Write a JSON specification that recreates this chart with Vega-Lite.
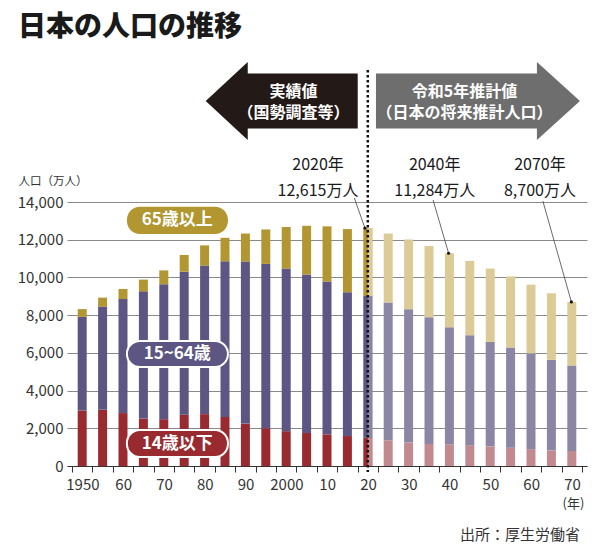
{
  "$schema": "https://vega.github.io/schema/vega-lite/v6.json",
  "autosize": {"type": "none"},
  "padding": {"left": 67, "top": 202, "right": 13, "bottom": 84},
  "width": 520,
  "height": 264,
  "background": "white",
  "title": {"text": "日本の人口の推移", "anchor": "start", "frame": "group", "font": "Noto Sans CJK JP", "fontSize": 28, "fontWeight": 900, "color": "#1a1a1a", "dx": -49, "offset": 20},
  "config": {"view": {"stroke": null}, "font": "Noto Sans CJK JP"},
  "data": {"values": [{}]},
  "datasets": {
    "population": [
      {"year": 1950, "age": "14歳以下", "value": 2943, "period": "実績"},
      {"year": 1950, "age": "15~64歳", "value": 4966, "period": "実績"},
      {"year": 1950, "age": "65歳以上", "value": 411, "period": "実績"},
      {"year": 1955, "age": "14歳以下", "value": 2980, "period": "実績"},
      {"year": 1955, "age": "15~64歳", "value": 5473, "period": "実績"},
      {"year": 1955, "age": "65歳以上", "value": 475, "period": "実績"},
      {"year": 1960, "age": "14歳以下", "value": 2807, "period": "実績"},
      {"year": 1960, "age": "15~64歳", "value": 6047, "period": "実績"},
      {"year": 1960, "age": "65歳以上", "value": 535, "period": "実績"},
      {"year": 1965, "age": "14歳以下", "value": 2517, "period": "実績"},
      {"year": 1965, "age": "15~64歳", "value": 6744, "period": "実績"},
      {"year": 1965, "age": "65歳以上", "value": 624, "period": "実績"},
      {"year": 1970, "age": "14歳以下", "value": 2482, "period": "実績"},
      {"year": 1970, "age": "15~64歳", "value": 7157, "period": "実績"},
      {"year": 1970, "age": "65歳以上", "value": 733, "period": "実績"},
      {"year": 1975, "age": "14歳以下", "value": 2722, "period": "実績"},
      {"year": 1975, "age": "15~64歳", "value": 7581, "period": "実績"},
      {"year": 1975, "age": "65歳以上", "value": 887, "period": "実績"},
      {"year": 1980, "age": "14歳以下", "value": 2751, "period": "実績"},
      {"year": 1980, "age": "15~64歳", "value": 7883, "period": "実績"},
      {"year": 1980, "age": "65歳以上", "value": 1065, "period": "実績"},
      {"year": 1985, "age": "14歳以下", "value": 2603, "period": "実績"},
      {"year": 1985, "age": "15~64歳", "value": 8251, "period": "実績"},
      {"year": 1985, "age": "65歳以上", "value": 1247, "period": "実績"},
      {"year": 1990, "age": "14歳以下", "value": 2249, "period": "実績"},
      {"year": 1990, "age": "15~64歳", "value": 8590, "period": "実績"},
      {"year": 1990, "age": "65歳以上", "value": 1489, "period": "実績"},
      {"year": 1995, "age": "14歳以下", "value": 2001, "period": "実績"},
      {"year": 1995, "age": "15~64歳", "value": 8716, "period": "実績"},
      {"year": 1995, "age": "65歳以上", "value": 1826, "period": "実績"},
      {"year": 2000, "age": "14歳以下", "value": 1847, "period": "実績"},
      {"year": 2000, "age": "15~64歳", "value": 8622, "period": "実績"},
      {"year": 2000, "age": "65歳以上", "value": 2204, "period": "実績"},
      {"year": 2005, "age": "14歳以下", "value": 1752, "period": "実績"},
      {"year": 2005, "age": "15~64歳", "value": 8409, "period": "実績"},
      {"year": 2005, "age": "65歳以上", "value": 2576, "period": "実績"},
      {"year": 2010, "age": "14歳以下", "value": 1680, "period": "実績"},
      {"year": 2010, "age": "15~64歳", "value": 8103, "period": "実績"},
      {"year": 2010, "age": "65歳以上", "value": 2925, "period": "実績"},
      {"year": 2015, "age": "14歳以下", "value": 1589, "period": "実績"},
      {"year": 2015, "age": "15~64歳", "value": 7629, "period": "実績"},
      {"year": 2015, "age": "65歳以上", "value": 3347, "period": "実績"},
      {"year": 2020, "age": "14歳以下", "value": 1503, "period": "実績"},
      {"year": 2020, "age": "15~64歳", "value": 7509, "period": "実績"},
      {"year": 2020, "age": "65歳以上", "value": 3603, "period": "実績"},
      {"year": 2025, "age": "14歳以下", "value": 1363, "period": "推計"},
      {"year": 2025, "age": "15~64歳", "value": 7310, "period": "推計"},
      {"year": 2025, "age": "65歳以上", "value": 3653, "period": "推計"},
      {"year": 2030, "age": "14歳以下", "value": 1240, "period": "推計"},
      {"year": 2030, "age": "15~64歳", "value": 7076, "period": "推計"},
      {"year": 2030, "age": "65歳以上", "value": 3696, "period": "推計"},
      {"year": 2035, "age": "14歳以下", "value": 1169, "period": "推計"},
      {"year": 2035, "age": "15~64歳", "value": 6722, "period": "推計"},
      {"year": 2035, "age": "65歳以上", "value": 3773, "period": "推計"},
      {"year": 2040, "age": "14歳以下", "value": 1142, "period": "推計"},
      {"year": 2040, "age": "15~64歳", "value": 6213, "period": "推計"},
      {"year": 2040, "age": "65歳以上", "value": 3928, "period": "推計"},
      {"year": 2045, "age": "14歳以下", "value": 1103, "period": "推計"},
      {"year": 2045, "age": "15~64歳", "value": 5832, "period": "推計"},
      {"year": 2045, "age": "65歳以上", "value": 3945, "period": "推計"},
      {"year": 2050, "age": "14歳以下", "value": 1041, "period": "推計"},
      {"year": 2050, "age": "15~64歳", "value": 5540, "period": "推計"},
      {"year": 2050, "age": "65歳以上", "value": 3888, "period": "推計"},
      {"year": 2055, "age": "14歳以下", "value": 971, "period": "推計"},
      {"year": 2055, "age": "15~64歳", "value": 5307, "period": "推計"},
      {"year": 2055, "age": "65歳以上", "value": 3773, "period": "推計"},
      {"year": 2060, "age": "14歳以下", "value": 893, "period": "推計"},
      {"year": 2060, "age": "15~64歳", "value": 5078, "period": "推計"},
      {"year": 2060, "age": "65歳以上", "value": 3644, "period": "推計"},
      {"year": 2065, "age": "14歳以下", "value": 818, "period": "推計"},
      {"year": 2065, "age": "15~64歳", "value": 4809, "period": "推計"},
      {"year": 2065, "age": "65歳以上", "value": 3532, "period": "推計"},
      {"year": 2070, "age": "14歳以下", "value": 797, "period": "推計"},
      {"year": 2070, "age": "15~64歳", "value": 4535, "period": "推計"},
      {"year": 2070, "age": "65歳以上", "value": 3367, "period": "推計"}
    ]
  },
  "layer": [
    {
      "data": {"name": "population"},
      "transform": [{"filter": "datum.period == '実績'"}],
      "mark": {"type": "bar", "size": 9},
      "encoding": {
        "x": {"field": "year", "type": "quantitative",
          "scale": {"domain": [1947.5, 2072.5], "nice": false, "zero": false},
          "axis": {
            "values": [1947.5, 1952.5, 1957.5, 1962.5, 1967.5, 1972.5, 1977.5, 1982.5, 1987.5, 1992.5, 1997.5, 2002.5, 2007.5, 2012.5, 2017.5, 2022.5, 2027.5, 2032.5, 2037.5, 2042.5, 2047.5, 2052.5, 2057.5, 2062.5, 2067.5, 2072.5],
            "tickCount": 40,
            "labelExpr": "(datum.value + 2.5) % 10 != 0 || datum.value > 2070 ? '' : ((datum.value + 2.5) == 1950 || (datum.value + 2.5) == 2000 ? '' + (datum.value + 2.5) : '' + ((datum.value + 2.5) % 100))",
            "labelOffset": 10.4, "tickSize": 6, "tickColor": "#333", "domainColor": "#333",
            "labelFontSize": 15, "labelColor": "#333", "labelPadding": 5,
            "labelFlush": false, "labelOverlap": false, "labelBound": false, "grid": false,
            "title": "(年)", "titleX": 506, "titleY": 37, "titleAlign": "center", "titleBaseline": "middle",
            "titleFontSize": 13, "titleFontWeight": "normal", "titleColor": "#333"
          }
        },
        "y": {"field": "value", "type": "quantitative", "stack": "zero",
          "scale": {"domain": [0, 14000], "nice": false},
          "axis": {
            "values": [0, 2000, 4000, 6000, 8000, 10000, 12000, 14000], "tickCount": 20, "format": ",d",
            "domain": false, "ticks": false, "grid": true, "gridColor": "#8a8a8a", "gridWidth": 1,
            "labelFontSize": 15, "labelColor": "#333", "labelPadding": 4, "labelOverlap": false, "labelBound": false,
            "title": "人口（万人）", "titleAngle": 0, "titleAlign": "left", "titleBaseline": "middle",
            "titleX": -49, "titleY": -21, "titleFontSize": 11.5, "titleFontWeight": "normal", "titleColor": "#333"
          }
        },
        "color": {"field": "age", "type": "nominal", "legend": null,
          "scale": {"domain": ["14歳以下", "15~64歳", "65歳以上"], "range": ["#992b30", "#5d5683", "#b29631"]}},
        "order": {"field": "age", "type": "nominal", "sort": "ascending"}
      }
    },
    {
      "data": {"name": "population"},
      "transform": [{"filter": "datum.period == '推計'"}],
      "mark": {"type": "bar", "size": 9},
      "encoding": {
        "x": {"field": "year", "type": "quantitative", "scale": {"domain": [1947.5, 2072.5], "nice": false, "zero": false}},
        "y": {"field": "value", "type": "quantitative", "stack": "zero", "scale": {"domain": [0, 14000], "nice": false}},
        "color": {"field": "age", "type": "nominal", "legend": null,
          "scale": {"domain": ["14歳以下", "15~64歳", "65歳以上"], "range": ["#c08a8e", "#8c85a4", "#dccb96"]}},
        "order": {"field": "age", "type": "nominal", "sort": "ascending"}
      }
    },
    {
      "data": {"name": "population"},
      "transform": [{"filter": "datum.year == 2020"}],
      "mark": {"type": "bar", "size": 4.5, "xOffset": 2.25},
      "encoding": {
        "x": {"field": "year", "type": "quantitative", "scale": {"domain": [1947.5, 2072.5], "nice": false, "zero": false}},
        "y": {"field": "value", "type": "quantitative", "stack": "zero", "scale": {"domain": [0, 14000], "nice": false}},
        "color": {"field": "age", "type": "nominal", "legend": null,
          "scale": {"domain": ["14歳以下", "15~64歳", "65歳以上"], "range": ["#c08a8e", "#8c85a4", "#dccb96"]}},
        "order": {"field": "age", "type": "nominal", "sort": "ascending"}
      }
    },
    {
      "mark": {"type": "rule", "color": "#111", "strokeWidth": 2.5, "strokeDash": [2.5, 2.5]},
      "encoding": {
        "x": {"datum": 2020, "type": "quantitative"},
        "y": {"datum": 21000, "type": "quantitative"},
        "y2": {"datum": -318}
      }
    },
    {
      "mark": {"type": "rule", "color": "#444", "strokeWidth": 0.8},
      "encoding": {
        "x": {"datum": 2016.7, "type": "quantitative"},
        "y": {"datum": 14212, "type": "quantitative"},
        "x2": {"datum": 2019.3}, "y2": {"datum": 12615}
      }
    },
    {
      "mark": {"type": "rule", "color": "#444", "strokeWidth": 0.8},
      "encoding": {
        "x": {"datum": 2036.0, "type": "quantitative"},
        "y": {"datum": 14106, "type": "quantitative"},
        "x2": {"datum": 2039.8}, "y2": {"datum": 11284}
      }
    },
    {
      "mark": {"type": "rule", "color": "#444", "strokeWidth": 0.8},
      "encoding": {
        "x": {"datum": 2062.9, "type": "quantitative"},
        "y": {"datum": 14053, "type": "quantitative"},
        "x2": {"datum": 2069.9}, "y2": {"datum": 8700}
      }
    },
    {
      "mark": {"type": "point", "filled": true, "color": "#111", "size": 10, "opacity": 1},
      "encoding": {"x": {"datum": 2019.3, "type": "quantitative"}, "y": {"datum": 12615, "type": "quantitative"}}
    },
    {
      "mark": {"type": "point", "filled": true, "color": "#111", "size": 10, "opacity": 1},
      "encoding": {"x": {"datum": 2039.8, "type": "quantitative"}, "y": {"datum": 11284, "type": "quantitative"}}
    },
    {
      "mark": {"type": "point", "filled": true, "color": "#111", "size": 10, "opacity": 1},
      "encoding": {"x": {"datum": 2069.9, "type": "quantitative"}, "y": {"datum": 8700, "type": "quantitative"}}
    },
    {
      "mark": {"type": "rect", "fill": "#b2962f", "cornerRadius": 13},
      "encoding": {
        "x": {"datum": 1960.96, "type": "quantitative"}, "x2": {"datum": 1985.72},
        "y": {"datum": 12303, "type": "quantitative"}, "y2": {"datum": 13750}
      }
    },
    {
      "mark": {"type": "rect", "fill": "#5d5683", "stroke": "white", "strokeWidth": 2, "cornerRadius": 13},
      "encoding": {
        "x": {"datum": 1960.96, "type": "quantitative"}, "x2": {"datum": 1985.72},
        "y": {"datum": 5250, "type": "quantitative"}, "y2": {"datum": 6629}
      }
    },
    {
      "mark": {"type": "rect", "fill": "#992b30", "stroke": "white", "strokeWidth": 2, "cornerRadius": 13},
      "encoding": {
        "x": {"datum": 1960.96, "type": "quantitative"}, "x2": {"datum": 1985.72},
        "y": {"datum": 477, "type": "quantitative"}, "y2": {"datum": 1909}
      }
    },
    {
      "mark": {"type": "text", "text": "65歳以上", "color": "white", "fontSize": 17, "fontWeight": "bold", "align": "center", "baseline": "middle"},
      "encoding": {"x": {"datum": 1973.3, "type": "quantitative"}, "y": {"datum": 13019, "type": "quantitative"}}
    },
    {
      "mark": {"type": "text", "text": "15~64歳", "color": "white", "fontSize": 17, "fontWeight": "bold", "align": "center", "baseline": "middle"},
      "encoding": {"x": {"datum": 1973.3, "type": "quantitative"}, "y": {"datum": 5939, "type": "quantitative"}}
    },
    {
      "mark": {"type": "text", "text": "14歳以下", "color": "white", "fontSize": 17, "fontWeight": "bold", "align": "center", "baseline": "middle"},
      "encoding": {"x": {"datum": 1973.3, "type": "quantitative"}, "y": {"datum": 1193, "type": "quantitative"}}
    },
    {
      "mark": {"type": "point", "filled": true, "opacity": 1, "color": "#231916", "strokeWidth": 0, "size": 23104,
        "shape": "M-1,0L-0.447,-0.513L-0.447,-0.362L1,-0.362L1,0.362L-0.447,0.362L-0.447,0.513Z"},
      "encoding": {"x": {"datum": 1998.9, "type": "quantitative"}, "y": {"datum": 19356, "type": "quantitative"}}
    },
    {
      "mark": {"type": "point", "filled": true, "opacity": 1, "color": "#6e6e6e", "strokeWidth": 0, "size": 41616,
        "shape": "M-1,-0.27L0.578,-0.27L0.578,-0.382L1,0L0.578,0.382L0.578,0.27L-1,0.27Z"},
      "encoding": {"x": {"datum": 2047.0, "type": "quantitative"}, "y": {"datum": 19356, "type": "quantitative"}}
    },
    {
      "mark": {"type": "text", "text": "実績値\n（国勢調査等）", "lineBreak": "\n", "lineHeight": 21, "color": "white", "fontSize": 16, "fontWeight": "bold", "align": "center", "baseline": "middle"},
      "encoding": {"x": {"datum": 2001.8, "type": "quantitative"}, "y": {"datum": 19833, "type": "quantitative"}}
    },
    {
      "mark": {"type": "text", "text": "令和5年推計値\n（日本の将来推計人口）", "lineBreak": "\n", "lineHeight": 21, "color": "white", "fontSize": 16, "fontWeight": "bold", "align": "center", "baseline": "middle"},
      "encoding": {"x": {"datum": 2043.7, "type": "quantitative"}, "y": {"datum": 19833, "type": "quantitative"}}
    },
    {
      "mark": {"type": "text", "text": "2020年\n12,615万人", "lineBreak": "\n", "lineHeight": 26, "color": "#1a1a1a", "fontSize": 16, "align": "center", "baseline": "middle"},
      "encoding": {"x": {"datum": 2007.8, "type": "quantitative"}, "y": {"datum": 15962, "type": "quantitative"}}
    },
    {
      "mark": {"type": "text", "text": "2040年\n11,284万人", "lineBreak": "\n", "lineHeight": 26, "color": "#1a1a1a", "fontSize": 16, "align": "center", "baseline": "middle"},
      "encoding": {"x": {"datum": 2036.4, "type": "quantitative"}, "y": {"datum": 15962, "type": "quantitative"}}
    },
    {
      "mark": {"type": "text", "text": "2070年\n8,700万人", "lineBreak": "\n", "lineHeight": 26, "color": "#1a1a1a", "fontSize": 16, "align": "center", "baseline": "middle"},
      "encoding": {"x": {"datum": 2062.2, "type": "quantitative"}, "y": {"datum": 15962, "type": "quantitative"}}
    },
    {
      "mark": {"type": "text", "text": "出所：厚生労働省", "color": "#333", "fontSize": 15, "align": "right", "baseline": "middle"},
      "encoding": {"x": {"datum": 2072.0, "type": "quantitative"}, "y": {"datum": -3659, "type": "quantitative"}}
    }
  ],
  "resolve": {"scale": {"color": "independent"}}
}
